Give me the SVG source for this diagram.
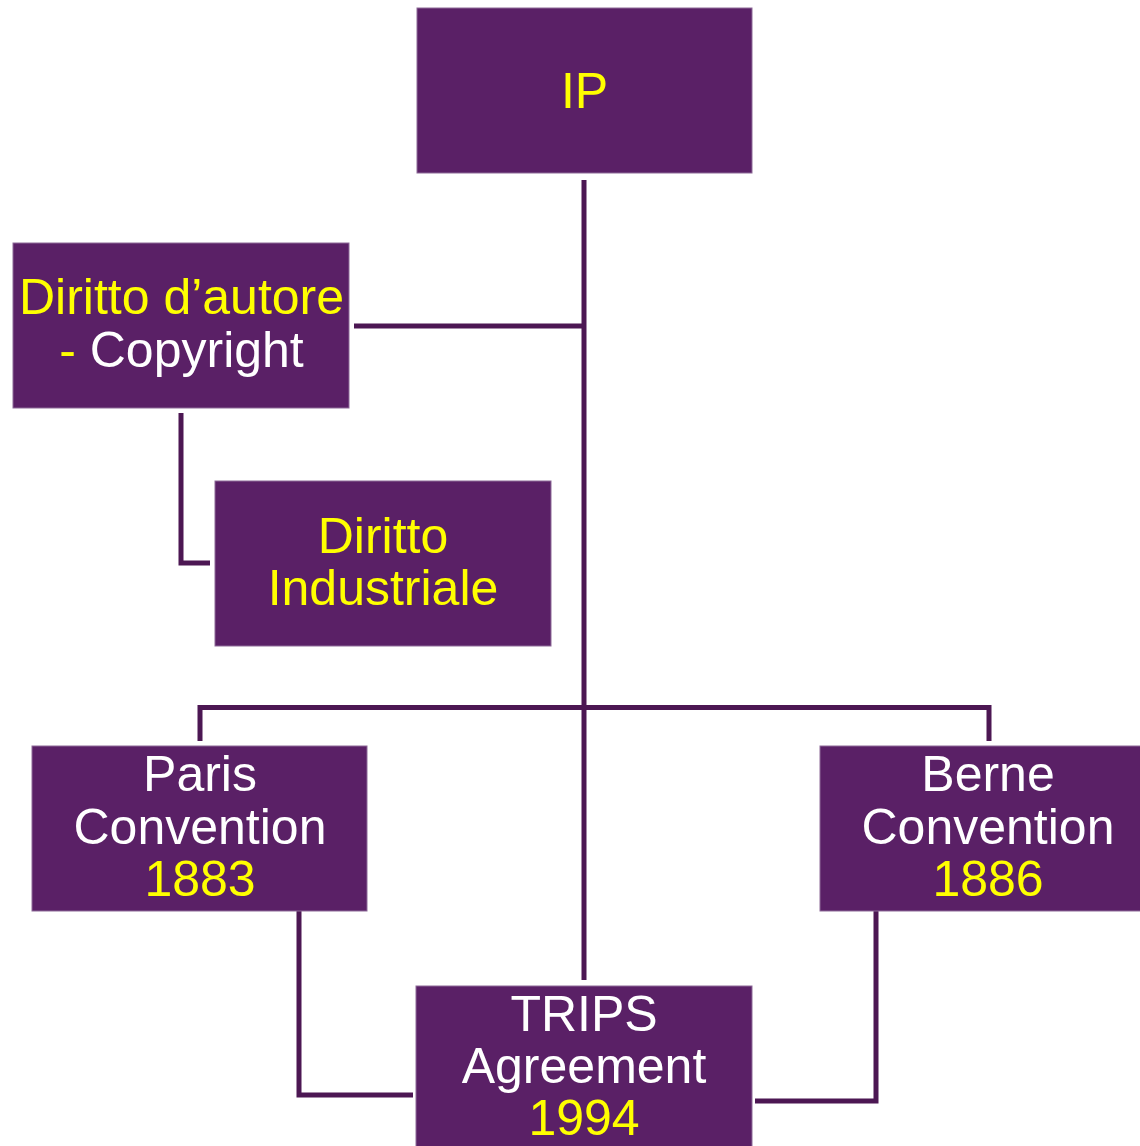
<svg xmlns="http://www.w3.org/2000/svg" width="1140" height="1146" viewBox="0 0 1140 1146">
<style>
.box{fill:#5a2066;stroke:#8d6a98;stroke-width:1}
.conn{fill:none;stroke:#4c1753;stroke-width:5;stroke-linejoin:miter}
text{font-family:"Liberation Sans",Arial,sans-serif;font-size:50px;text-anchor:middle}
.y{fill:#ffff00}
.w{fill:#ffffff}
</style>
<rect width="1140" height="1146" fill="#ffffff"/>
<g id="connectors">
<path class="conn" d="M584,180 V980"/>
<path class="conn" d="M354,326 H584"/>
<path class="conn" d="M181,413 V563 H210"/>
<path class="conn" d="M200,741 V707.5 H989 V741"/>
<path class="conn" d="M299,911 V1095 H413"/>
<path class="conn" d="M876,911 V1101 H755"/>
</g>
<g id="ip">
<rect class="box" x="417" y="8" width="335" height="165"/>
<text class="y" x="584.5" y="108">IP</text>
</g>
<g id="copyright">
<rect class="box" x="13" y="243" width="336" height="165"/>
<text x="181.5" y="314"><tspan class="y">Diritto d’autore</tspan></text>
<text x="181.5" y="367"><tspan class="y">- </tspan><tspan class="w">Copyright</tspan></text>
</g>
<g id="industriale">
<rect class="box" x="215" y="481" width="336" height="165"/>
<text class="y" x="383" y="553">Diritto</text>
<text class="y" x="383" y="605">Industriale</text>
</g>
<g id="paris">
<rect class="box" x="32" y="746" width="335" height="165"/>
<text class="w" x="200" y="791">Paris</text>
<text class="w" x="200" y="844">Convention</text>
<text class="y" x="200" y="896">1883</text>
</g>
<g id="berne">
<rect class="box" x="820" y="746" width="335" height="165"/>
<text class="w" x="988" y="791">Berne</text>
<text class="w" x="988" y="844">Convention</text>
<text class="y" x="988" y="896">1886</text>
</g>
<g id="trips">
<rect class="box" x="416" y="986" width="336" height="165"/>
<text class="w" x="584" y="1031">TRIPS</text>
<text class="w" x="584" y="1083">Agreement</text>
<text class="y" x="584" y="1135">1994</text>
</g>
</svg>
